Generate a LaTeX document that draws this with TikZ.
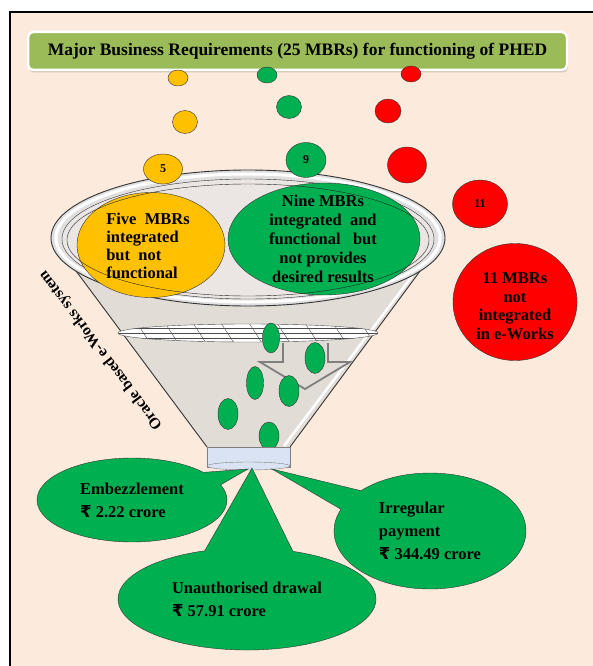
\documentclass[tikz,border=0pt]{standalone}
\usepackage{fontspec}
\setmainfont{Liberation Serif}
\newfontfamily\rupeefont{DejaVu Sans}
\usepackage{tikz}
\usetikzlibrary{shapes.geometric, shapes.callouts, shadows}

\definecolor{pagepeach}{RGB}{252,234,221}
\definecolor{titlegreen}{RGB}{155,187,89}
\definecolor{mbryellow}{RGB}{255,192,0}
\definecolor{mbrgreen}{RGB}{0,176,80}
\definecolor{mbrred}{RGB}{255,0,0}
\definecolor{funnelgray}{RGB}{226,220,215}
\definecolor{spoutblue}{RGB}{218,227,243}
\definecolor{arrowgray}{RGB}{127,127,127}

\newcommand{\rupee}{{\rupeefont\bfseries ₹}}

\begin{document}
\begin{tikzpicture}[
    x=1pt, y=-1pt,
    ball/.style={ellipse, draw=black!80, inner sep=0pt, font=\bfseries\fontsize{12}{12}\selectfont},
    drop/.style={ellipse, draw=black!80, fill=mbrgreen, inner sep=0pt, minimum width=19, minimum height=31},
    bigtext/.style={font=\bfseries\fontsize{16.5}{18}\selectfont},
    bubble/.style={ellipse callout, draw=black!80, fill=mbrgreen, inner sep=0pt, align=left, font=\bfseries\fontsize{16.5}{23}\selectfont}
]
    \useasboundingbox (0,0) rectangle (593,666);

    % Page
    \fill[white] (0,0) rectangle (593,666);
    \fill[pagepeach] (10,12) rectangle (593,666);
    \draw[line width=1.5pt] (10,666) -- (10,12) -- (593,12);

    % Title
    \node [draw=white, line width=2.5pt, fill=titlegreen, rounded corners=5pt, minimum width=539, minimum height=38,
           drop shadow={shadow xshift=1pt, shadow yshift=-2.5pt, opacity=0.35},
           font=\bfseries\fontsize{17.5}{18}\selectfont] (title) at (297.5,51)
          {Major Business Requirements (25 MBRs) for functioning of PHED};

    % Falling requirements
    \node [ball, fill=mbryellow, minimum width=20, minimum height=16] (y1) at (178,78) {};
    \node [ball, fill=mbryellow, minimum width=25, minimum height=23] (y2) at (185,122) {};
    \node [ball, fill=mbrgreen, minimum width=20, minimum height=16] (g1) at (267,75) {};
    \node [ball, fill=mbrgreen, minimum width=25, minimum height=23] (g2) at (289,107) {};
    \node [ball, fill=mbrred, minimum width=20, minimum height=16] (r1) at (411,74) {};
    \node [ball, fill=mbrred, minimum width=26, minimum height=24] (r2) at (388,111) {};
    \node [ball, fill=mbrred, minimum width=39, minimum height=36] (r3) at (407,165) {};
    \node [ball, fill=mbrred, minimum width=55, minimum height=48] (r4) at (480,204) {11};

    % Funnel cone
    \fill[funnelgray] (53,240) -- (207,447) -- (290,447) -- (443,240) -- cycle;
    \draw[white, line width=2.5pt] (434,247) -- (284,446);
    \draw[black!80, line width=0.9pt] (53,240) -- (207,447);
    \draw[black!80, line width=0.9pt] (443,240) -- (290,447);

    % Funnel rim
    \draw[black!80, line width=0.9pt, fill=black!12] (248,238) ellipse [x radius=197, y radius=68];
    \draw[white, line width=3pt] (248,238) ellipse [x radius=192, y radius=64];
    \draw[black!80, fill=funnelgray!70] (248,239) ellipse [x radius=186, y radius=60];

    % Integrated groups
    \node [ball, fill=mbryellow, minimum width=148, minimum height=105] (five) at (151,245) {};
    \node [ball, fill=mbrgreen, minimum width=192, minimum height=112] (nine) at (324,239) {};
    \draw[black!85] (248,240) ellipse [x radius=181, y radius=56];
    \node [bigtext, align=left] (fivetxt) at (148,246) {Five\ \ MBRs\\integrated\\but\ \ not\\functional};
    \node [bigtext, align=center, font=\bfseries\fontsize{16.5}{19}\selectfont] (ninetxt) at (323,239)
          {Nine MBRs\\integrated\ \ and\\functional\ \ \ but\\not provides\\desired results};
    \node [ball, fill=mbryellow, minimum width=39, minimum height=30] (y3) at (163,169) {5};
    \node [ball, fill=mbrgreen, minimum width=40, minimum height=35] (g3) at (306,160) {9};

    % Filter mesh
    \begin{scope}
        \clip (248,333) ellipse [x radius=130, y radius=9];
        \fill[white] (118,320) rectangle (380,346);
        \foreach \hy in {328,333,338}
            \draw[black!70] (110,\hy) -- (390,\hy);
        \foreach \hx in {135,163,...,380}
            \draw[black!70] (\hx,320) -- (\hx+17,346);
    \end{scope}
    \draw[black!70] (248,333) ellipse [x radius=130, y radius=9];

    % Flow arrow
    \draw[arrowgray, line width=1.8pt, line join=miter]
        (283,343) -- (283,362) -- (260,362) -- (305,389) -- (350,362) -- (328,362) -- (328,343);

    % Passing requirements
    \node [drop, minimum width=17, minimum height=30] (d1) at (271,338) {};
    \node [drop, minimum width=20] (d2) at (315,358) {};
    \node [drop, minimum width=17, minimum height=33] (d3) at (255,383) {};
    \node [drop, minimum width=20] (d4) at (289,391) {};
    \node [drop, minimum width=20] (d5) at (228,414) {};
    \node [drop, minimum width=20, minimum height=28] (d6) at (269,436) {};

    % Spout
    \node [rectangle, draw=black!50, fill=spoutblue, minimum width=83, minimum height=20, inner sep=0pt] (spout) at (248.5,457) {};
    \node [ellipse, draw=black!50, fill=spoutblue, minimum width=83, minimum height=8, inner sep=0pt] (spoutlip) at (248.5,466) {};

    % Outcomes
    \coordinate (tipA) at (248,469);
    \coordinate (tipB) at (252,468);
    \coordinate (tipC) at (272,469);
    \node [bubble, minimum width=190, minimum height=84, callout absolute pointer={(tipA)}, callout pointer arc=20] (embz) at (132,500)
          {Embezzlement\\\rupee\ 2.22 crore};
    \node [bubble, minimum width=258, minimum height=102, callout absolute pointer={(tipB)}, callout pointer arc=40] (udraw) at (247,599)
          {Unauthorised drawal\\\rupee\ 57.91 crore};
    \node [bubble, minimum width=192, minimum height=116, callout absolute pointer={(tipC)}, callout pointer arc=22] (irreg) at (430,531)
          {Irregular\\payment\\\rupee\ 344.49 crore};

    % Not integrated
    \node [ball, fill=mbrred, minimum width=124, minimum height=117] (notint) at (515,302) {};
    \node [align=center, font=\bfseries\fontsize{16.5}{18.5}\selectfont] (notinttxt) at (515,306)
          {11 MBRs\\not\\integrated\\in e-Works};

    % System label
    \node [font=\bfseries\fontsize{15.5}{16}\selectfont, rotate=127] (oracle) at (101,350) {Oracle based e-Works system};
\end{tikzpicture}
\end{document}
